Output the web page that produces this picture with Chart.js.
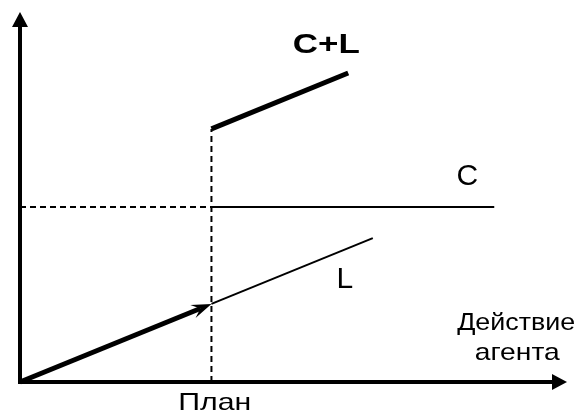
<!DOCTYPE html>
<html>
<head>
<meta charset="utf-8">
<script src="https://cdn.jsdelivr.net/npm/chart.js@4"></script>
<style>
  html, body { margin: 0; padding: 0; background: #fff; }
  #wrap { width: 584px; height: 412px; }
</style>
</head>
<body>
<div id="wrap"><canvas id="chart" width="584" height="412"></canvas></div>
<script>
// values in arbitrary units, origin = (0, 0)
const planX = 35;
const costC = [{x: 35, y: 47.3}, {x: 86.7, y: 47.3}];
const lineL = [{x: 35, y: 21.1}, {x: 64.5, y: 38.9}];
const arrowL = [{x: 0, y: 0}, {x: 35, y: 21.1}];
const sumCL = [{x: 35, y: 68.4}, {x: 60, y: 83.5}];
const guideC = [{x: 0, y: 47.3}, {x: 35, y: 47.3}];
const guidePlan = [{x: 35, y: 0}, {x: 35, y: 68.4}];

// annotation texts and where they sit (data units, baseline)
const labelTexts = ['C+L', 'C', 'L', 'Действие', 'агента', 'План'];
const labelAt = [[56.0, 88.9], [81.8, 53.2], [59.4, 25.4], [90.7, 14.1], [90.9, 5.9], [35.6, -7.6]];

const FAMILY = '"Liberation Sans", Arial, sans-serif';
const labelStyle = [
    {font: 'bold 28px ' + FAMILY, width: 67},
    {font: '30px ' + FAMILY},
    {font: '30px ' + FAMILY},
    {font: '24px ' + FAMILY, width: 118},
    {font: '24px ' + FAMILY, width: 85},
    {font: '24px ' + FAMILY, width: 73}
];

function arrowHead(ctx, x0, y0, x1, y1, len, half) {
    const a = Math.atan2(y1 - y0, x1 - x0);
    ctx.beginPath();
    ctx.moveTo(x1, y1);
    ctx.lineTo(x1 - len * Math.cos(a) + half * Math.sin(a), y1 - len * Math.sin(a) - half * Math.cos(a));
    ctx.lineTo(x1 - len * Math.cos(a) - half * Math.sin(a), y1 - len * Math.sin(a) + half * Math.cos(a));
    ctx.closePath();
    ctx.fill();
}

const decorPlugin = {
    id: 'decor',
    afterDraw(chart) {
        const ctx = chart.ctx;
        const xs = chart.scales.x, ys = chart.scales.y;
        const ox = xs.getPixelForValue(0), oy = ys.getPixelForValue(0);
        const right = xs.getPixelForValue(xs.max), top = ys.getPixelForValue(ys.max);
        ctx.save();
        ctx.fillStyle = '#000';
        ctx.strokeStyle = '#000';
        ctx.lineWidth = 4;
        ctx.lineCap = 'butt';
        // axes
        ctx.beginPath();
        ctx.moveTo(ox, oy + 2);
        ctx.lineTo(ox, top + 12);
        ctx.moveTo(ox - 2, oy);
        ctx.lineTo(right - 12, oy);
        ctx.stroke();
        arrowHead(ctx, ox, oy, ox, top, 15, 8);
        arrowHead(ctx, ox, oy, right, oy, 15, 8);
        // thick arrow along L up to the plan
        const ax0 = xs.getPixelForValue(arrowL[0].x), ay0 = ys.getPixelForValue(arrowL[0].y);
        const ax1 = xs.getPixelForValue(arrowL[1].x), ay1 = ys.getPixelForValue(arrowL[1].y);
        const ang = Math.atan2(ay1 - ay0, ax1 - ax0);
        ctx.lineWidth = 5;
        ctx.beginPath();
        ctx.moveTo(ax0, ay0);
        ctx.lineTo(ax1 - 12 * Math.cos(ang), ay1 - 12 * Math.sin(ang));
        ctx.stroke();
        ctx.beginPath();
        ctx.moveTo(ax1, ay1);
        ctx.lineTo(ax1 - 20 * Math.cos(ang) + 7 * Math.sin(ang), ay1 - 20 * Math.sin(ang) - 7 * Math.cos(ang));
        ctx.lineTo(ax1 - 12 * Math.cos(ang), ay1 - 12 * Math.sin(ang));
        ctx.lineTo(ax1 - 20 * Math.cos(ang) - 7 * Math.sin(ang), ay1 - 20 * Math.sin(ang) + 7 * Math.cos(ang));
        ctx.closePath();
        ctx.fill();
        // text (the original is slightly stretched sideways)
        ctx.textAlign = 'center';
        ctx.textBaseline = 'alphabetic';
        labelTexts.forEach((t, i) => {
            const st = labelStyle[i];
            ctx.font = st.font;
            const w = ctx.measureText(t).width;
            const sx = st.width ? st.width / w : 1;
            ctx.save();
            ctx.translate(xs.getPixelForValue(labelAt[i][0]), ys.getPixelForValue(labelAt[i][1]));
            ctx.scale(sx, 1);
            ctx.fillText(t, 0, 0);
            ctx.restore();
        });
        ctx.restore();
    }
};

const ds = (data, width, dash) => ({
    data: data,
    showLine: true,
    borderColor: '#000',
    borderWidth: width,
    borderDash: dash || [],
    pointRadius: 0,
    fill: false
});

new Chart(document.getElementById('chart').getContext('2d'), {
    type: 'scatter',
    data: {
        datasets: [
            ds(guideC, 2, [6, 4]),
            ds(guidePlan, 2, [6, 4]),
            ds(costC, 2),
            ds(lineL, 2),
            ds(sumCL, 5)
        ]
    },
    options: {
        responsive: false,
        animation: false,
        layout: {padding: {left: 20, right: 17, top: 12, bottom: 30}},
        plugins: {legend: {display: false}, tooltip: {enabled: false}},
        scales: {
            x: {type: 'linear', min: 0, max: 100, display: false},
            y: {type: 'linear', min: 0, max: 100, display: false}
        }
    },
    plugins: [decorPlugin]
});
</script>
</body>
</html>
